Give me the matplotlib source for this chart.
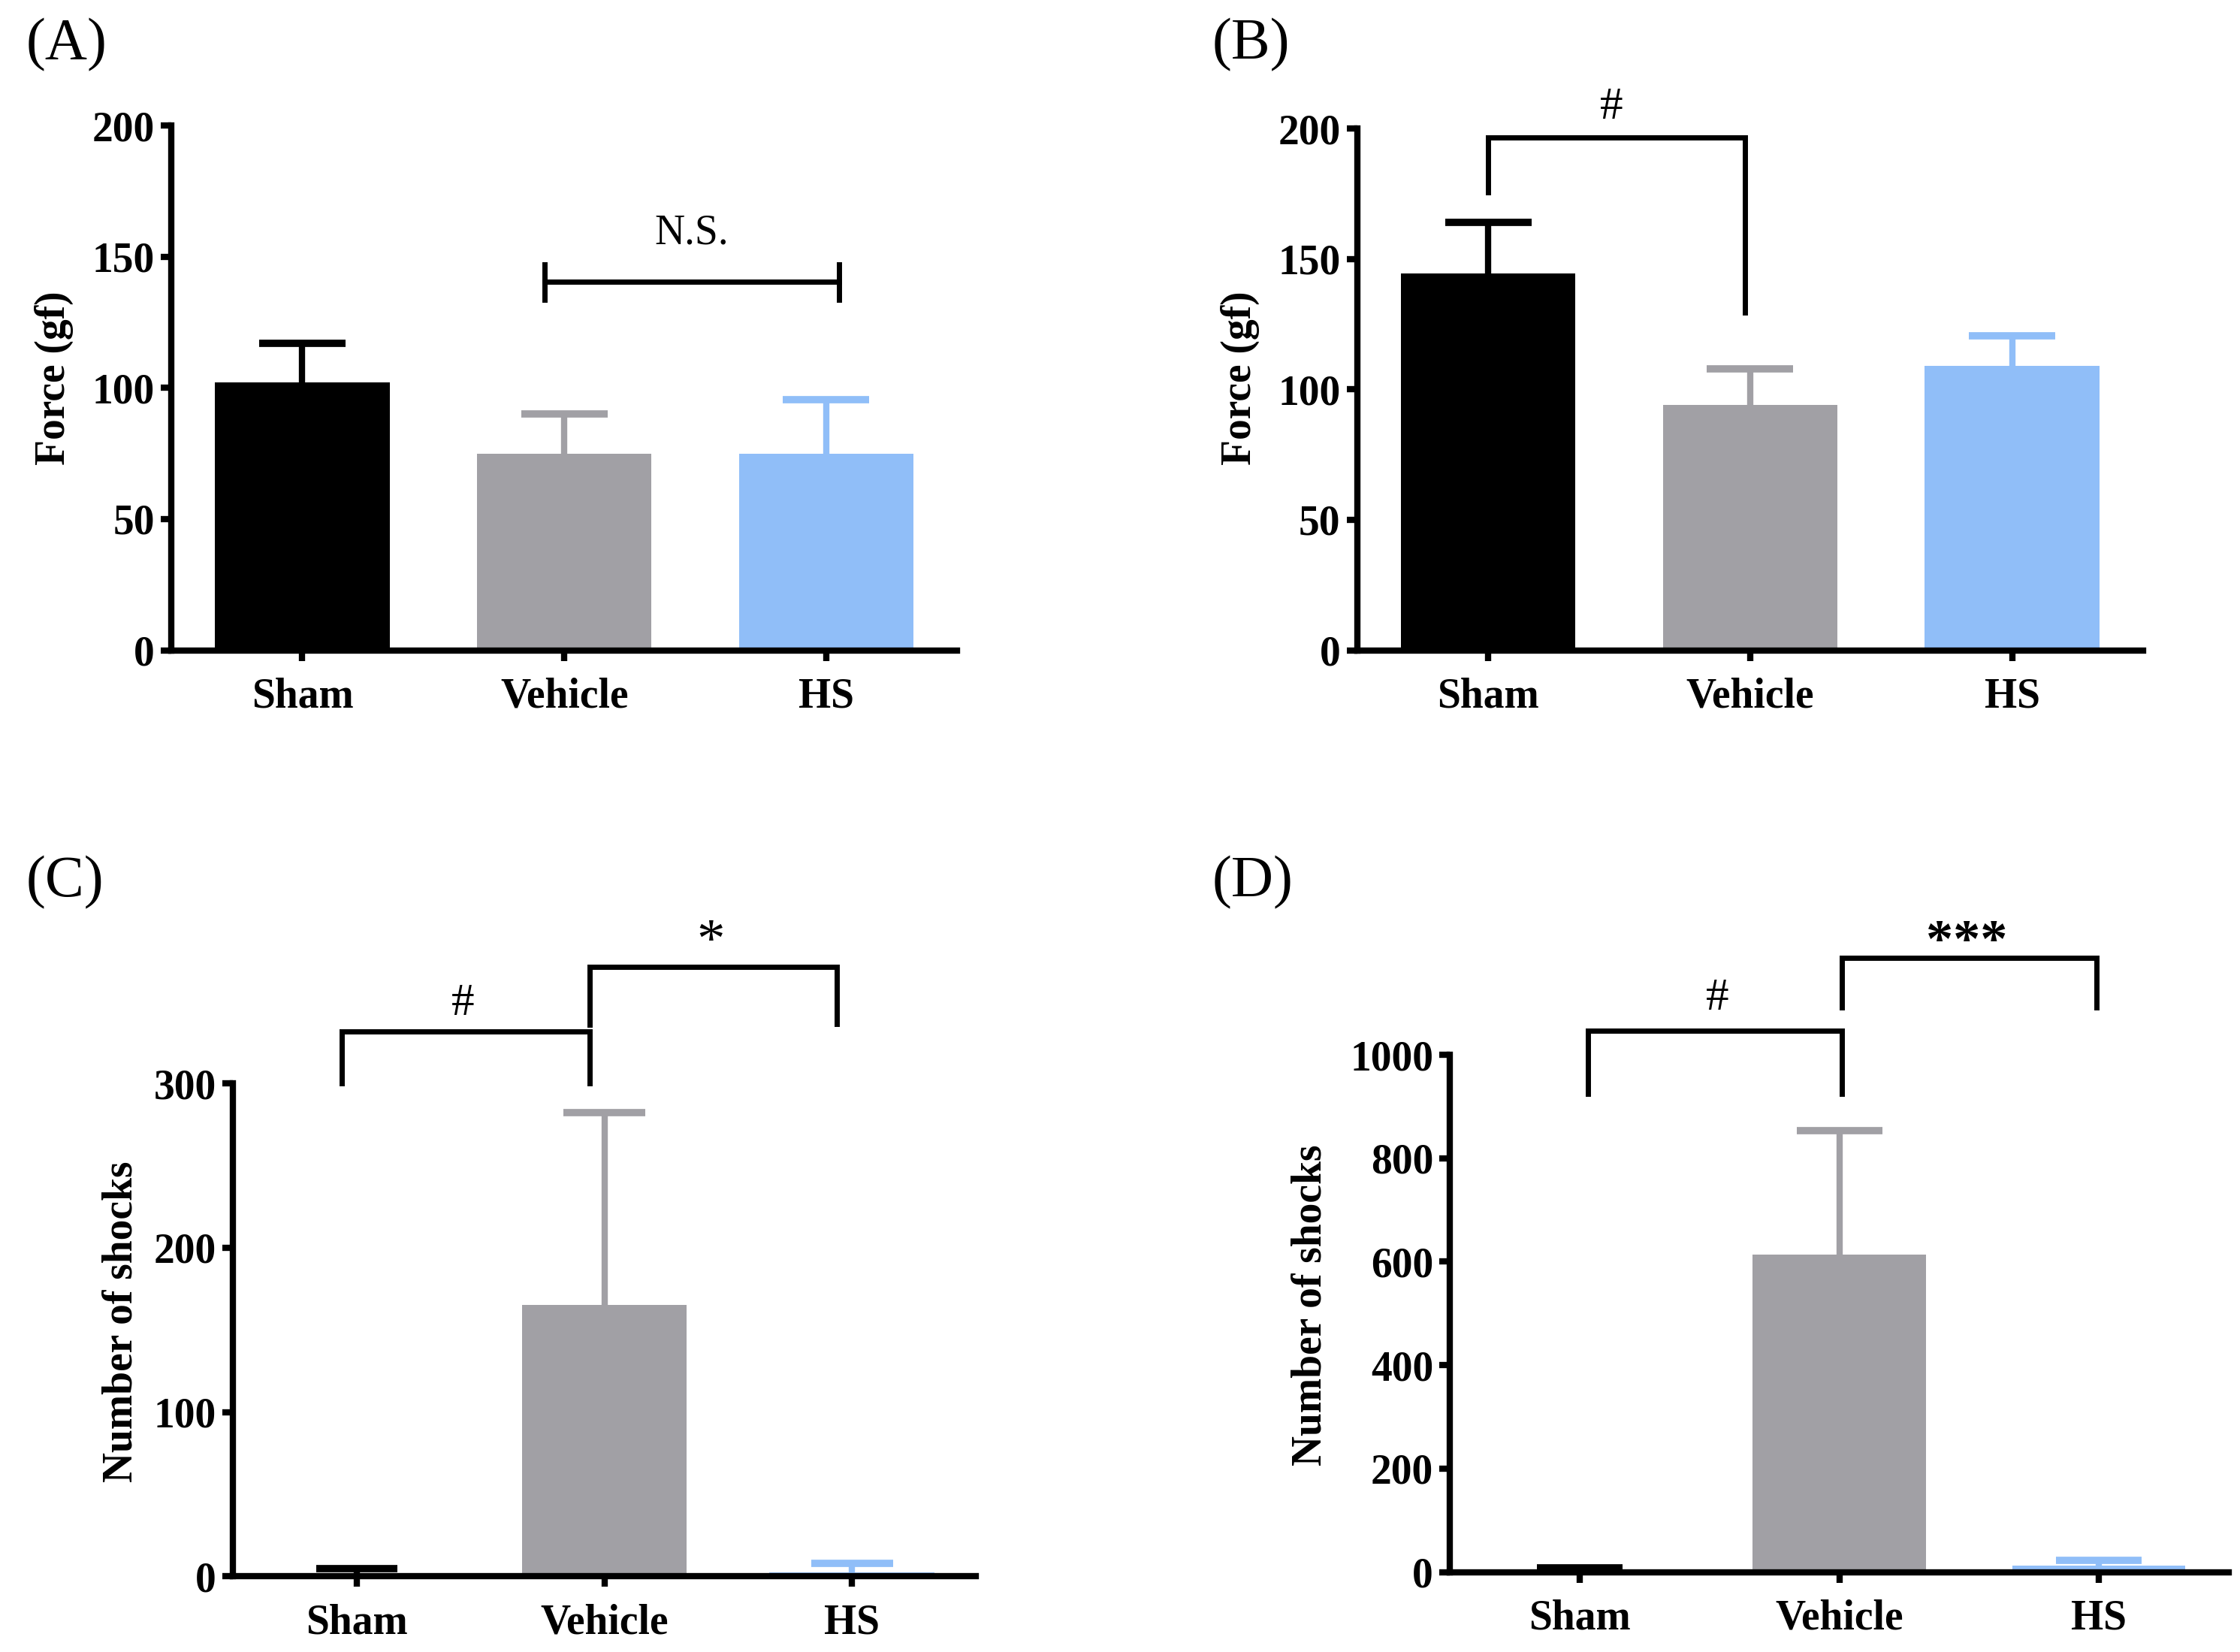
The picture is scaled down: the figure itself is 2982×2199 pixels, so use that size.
import matplotlib
matplotlib.use('Agg')
import matplotlib.pyplot as plt

plt.rcParams['font.family'] = ['Liberation Serif', 'DejaVu Serif']

groups = ['Sham', 'Vehicle', 'HS']
colors = ['#000000', '#A1A0A5', '#90BEF8']

# panel A / B : force (gf), mean and upper error
force_a = [102, 75, 75]
force_a_err = [15, 15, 20.5]
force_b = [144.5, 94, 109]
force_b_err = [19.5, 14, 11.5]

# panel C / D : number of shocks
shocks_c = [1, 165, 2.5]
shocks_c_err = [3.5, 117, 5.5]
shocks_d = [3, 614, 13]
shocks_d_err = [5, 240, 10]

# brackets: (x1, x2, top, left end, right end)
brackets_b = [(0, 0.98, 196.5, 175.5, 129.6)]
brackets_c = [(-0.06, 0.94, 331.7, 300, 300), (0.94, 1.94, 370.7, 335.5, 336)]
brackets_d = [(0.033, 1.01, 1047, 925, 925), (1.01, 1.99, 1188, 1092, 1092)]

fig = plt.figure(figsize=(14.91, 10.995), dpi=200)

bar_w = 0.667
cap_w = 0.165


def bar_panel(rect, means, errs, ymax, yticks, ylabel, ylab_xy):
    ax = fig.add_axes(rect)
    x = list(range(len(groups)))
    ax.bar(x, means, width=bar_w, color=colors, zorder=2)
    tops = [m + e for m, e in zip(means, errs)]
    # upper error bars only, drawn like GraphPad
    ax.vlines(x, means, tops, colors=colors, lw=3, zorder=1)
    ax.hlines(tops, [i - cap_w for i in x], [i + cap_w for i in x],
              colors=colors, lw=3.5, zorder=1)
    ax.set_xlim(-0.5, 2.5)
    ax.set_ylim(0, ymax)
    ax.set_yticks(yticks)
    ax.set_xticks(x)
    ax.set_xticklabels(groups)
    for s in ['top', 'right']:
        ax.spines[s].set_visible(False)
    for s in ['left', 'bottom']:
        ax.spines[s].set_linewidth(3)
    ax.tick_params(axis='both', width=3, length=5, labelsize=20)
    ax.tick_params(axis='y', pad=3)
    ax.tick_params(axis='x', pad=8)
    for lab in ax.get_xticklabels() + ax.get_yticklabels():
        lab.set_fontweight('bold')
    fig.text(ylab_xy[0], ylab_xy[1], ylabel, rotation=90, ha='center',
             va='center', fontsize=20, fontweight='bold')
    return ax


def draw_brackets(ax, brackets):
    for x1, x2, top, yl, yr in brackets:
        ax.plot([x1, x1, x2, x2], [yl, top, top, yr], color='black',
                lw=2.5, clip_on=False, solid_joinstyle='miter')


ax_a = bar_panel([0.0765, 0.6064, 0.3508, 0.3175], force_a, force_a_err, 200,
                 [0, 50, 100, 150, 200], 'Force (gf)', (0.024, 0.771))
ax_a.plot([0.924, 2.048], [140.5, 140.5], color='black', lw=2.5)
ax_a.plot([0.924, 0.924], [133.6, 147], color='black', lw=2.5)
ax_a.plot([2.048, 2.048], [133.6, 147], color='black', lw=2.5)
ax_a.text(1.486, 155, 'N.S.', ha='center', va='baseline', fontsize=20)

ax_b = bar_panel([0.6059, 0.6064, 0.3508, 0.3157], force_b, force_b_err, 200,
                 [0, 50, 100, 150, 200], 'Force (gf)', (0.5536, 0.771))
draw_brackets(ax_b, brackets_b)
ax_b.text(0.47, 203.8, '#', ha='center', va='baseline', fontsize=22)

ax_c = bar_panel([0.104, 0.0458, 0.3316, 0.2984], shocks_c, shocks_c_err, 300,
                 [0, 100, 200, 300], 'Number of shocks', (0.054, 0.2))
draw_brackets(ax_c, brackets_c)
ax_c.text(0.43, 341.8, '#', ha='center', va='baseline', fontsize=22)
ax_c.text(1.43, 376.7, '*', ha='center', va='baseline', fontsize=27)

ax_d = bar_panel([0.6473, 0.0484, 0.3476, 0.3131], shocks_d, shocks_d_err, 1000,
                 [0, 200, 400, 600, 800, 1000], 'Number of shocks', (0.585, 0.21))
draw_brackets(ax_d, brackets_d)
ax_d.text(0.53, 1087, '#', ha='center', va='baseline', fontsize=22)
ax_d.text(1.49, 1191, '***', ha='center', va='baseline', fontsize=26,
          fontweight='bold')

for lab, xy in [('(A)', (0.0115, 0.973)), ('(B)', (0.541, 0.973)),
                ('(C)', (0.0115, 0.466)), ('(D)', (0.541, 0.466))]:
    fig.text(xy[0], xy[1], lab, ha='left', va='center', fontsize=28)

fig.savefig('out.png', dpi=200)
